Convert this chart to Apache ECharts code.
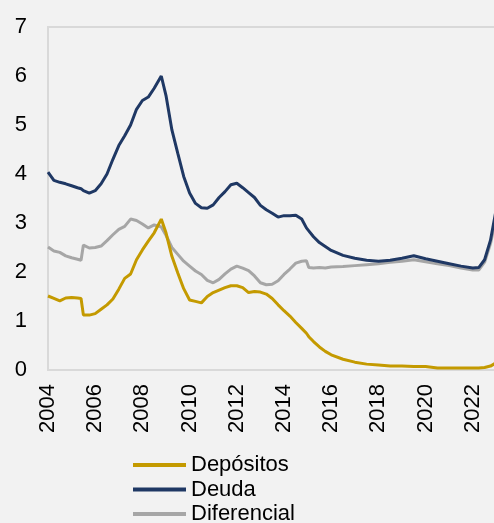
<!DOCTYPE html>
<html>
<head>
<meta charset="utf-8">
<script src="https://cdn.jsdelivr.net/npm/echarts@6/dist/echarts.min.js"></script>
<style>
    html, body { margin: 0; padding: 0; background: #f2f2f2; overflow: hidden; }
    #chart { width: 520px; height: 523px; }
</style>
</head>
<body>
<div id="chart"></div>
<script>
// años (decimales), lectura aproximada del gráfico
const anios = [
    2004.0, 2004.25, 2004.5, 2004.75, 2005.0, 2005.25, 2005.4, 2005.5, 2005.75, 2006.0,
    2006.25, 2006.5, 2006.75, 2007.0, 2007.25, 2007.5, 2007.75, 2008.0, 2008.25, 2008.5,
    2008.8, 2009.0, 2009.25, 2009.5, 2009.75, 2010.0, 2010.25, 2010.5, 2010.75, 2011.0,
    2011.25, 2011.5, 2011.75, 2012.0, 2012.25, 2012.5, 2012.75, 2013.0, 2013.25, 2013.5,
    2013.75, 2014.0, 2014.25, 2014.5, 2014.75, 2014.95, 2015.05, 2015.25, 2015.5, 2015.75,
    2016.0, 2016.5, 2017.0, 2017.5, 2018.0, 2018.5, 2019.0, 2019.5, 2020.0, 2020.5,
    2021.0, 2021.5, 2022.0, 2022.25, 2022.5, 2022.75, 2023.0
];
const depositos = [
    1.51, 1.46, 1.41, 1.47, 1.48, 1.47, 1.46, 1.12, 1.12, 1.15,
    1.24, 1.33, 1.45, 1.65, 1.87, 1.96, 2.25, 2.45, 2.63, 2.80,
    3.08, 2.80, 2.32, 1.98, 1.66, 1.43, 1.40, 1.37, 1.50, 1.58,
    1.63, 1.68, 1.72, 1.72, 1.68, 1.58, 1.60, 1.59, 1.55, 1.46,
    1.33, 1.21, 1.10, 0.97, 0.85, 0.75, 0.68, 0.58, 0.47, 0.38,
    0.31, 0.22, 0.16, 0.12, 0.10, 0.08, 0.08, 0.07, 0.07, 0.04,
    0.04, 0.04, 0.04, 0.04, 0.05, 0.08, 0.15
];
const deuda = [
    4.04, 3.87, 3.83, 3.80, 3.76, 3.72, 3.70, 3.66, 3.61, 3.66,
    3.80, 4.00, 4.30, 4.58, 4.78, 5.00, 5.32, 5.50, 5.57, 5.75,
    6.00, 5.60, 4.90, 4.42, 3.95, 3.61, 3.40, 3.31, 3.30, 3.37,
    3.52, 3.64, 3.78, 3.81, 3.72, 3.62, 3.52, 3.36, 3.27, 3.20,
    3.12, 3.15, 3.15, 3.16, 3.08, 2.90, 2.84, 2.72, 2.60, 2.52,
    2.44, 2.34, 2.28, 2.24, 2.22, 2.24, 2.28, 2.33, 2.27, 2.22,
    2.17, 2.12, 2.08, 2.09, 2.25, 2.65, 3.30
];
const diferencial = [
    2.51, 2.43, 2.40, 2.33, 2.29, 2.26, 2.24, 2.55, 2.49, 2.50,
    2.53, 2.64, 2.76, 2.87, 2.93, 3.08, 3.05, 2.98, 2.90, 2.96,
    2.92, 2.75, 2.50, 2.36, 2.22, 2.12, 2.02, 1.95, 1.83, 1.78,
    1.85, 1.96, 2.06, 2.12, 2.08, 2.03, 1.92, 1.78, 1.74, 1.75,
    1.82, 1.95, 2.06, 2.18, 2.22, 2.23, 2.09, 2.08, 2.09, 2.08,
    2.10, 2.11, 2.13, 2.15, 2.17, 2.20, 2.22, 2.25, 2.21, 2.17,
    2.13, 2.08, 2.04, 2.04, 2.20, 2.58, 3.15
];

const colores = {
    'Depósitos': '#C49A00',
    'Deuda': '#1F3864',
    'Diferencial': '#A6A6A6'
};
const fuente = 'Liberation Sans, Arial, sans-serif';

function serie(nombre, valores) {
    return {
        name: nombre,
        type: 'line',
        data: anios.map((a, i) => [a, valores[i]]),
        symbol: 'none',
        lineStyle: { width: 3, color: colores[nombre] },
        itemStyle: { color: colores[nombre] }
    };
}

const chart = echarts.init(document.getElementById('chart'));
chart.setOption({
    backgroundColor: '#f2f2f2',
    animation: false,
    grid: {
        left: 48, right: 0, top: 27, bottom: 153,
        outerBoundsMode: 'none',
        show: true, borderColor: '#d9d9d9', borderWidth: 2,
        backgroundColor: 'transparent'
    },
    legend: {
        orient: 'vertical',
        left: 133,
        top: 453,
        height: 100,
        padding: 0,
        itemWidth: 53,
        itemHeight: 4,
        itemGap: 0.5,
        icon: 'rect',
        data: ['Depósitos', 'Deuda', 'Diferencial'],
        textStyle: { fontFamily: fuente, fontSize: 22, color: '#000', lineHeight: 24 }
    },
    xAxis: {
        type: 'value',
        min: 2004,
        max: 2024,
        interval: 2,
        axisLine: { show: true, lineStyle: { color: '#d9d9d9', width: 2 } },
        axisTick: { show: false },
        splitLine: { show: false },
        axisLabel: {
            rotate: 90,
            margin: 14,
            fontFamily: fuente,
            fontSize: 22,
            color: '#000',
            formatter: v => String(v)
        }
    },
    yAxis: {
        type: 'value',
        min: 0,
        max: 7,
        interval: 1,
        axisLine: { show: true, lineStyle: { color: '#d9d9d9', width: 2 } },
        axisTick: { show: false },
        splitLine: { show: false },
        axisLabel: { margin: 21, fontFamily: fuente, fontSize: 22, color: '#000' }
    },
    series: [
        serie('Diferencial', diferencial),
        serie('Depósitos', depositos),
        serie('Deuda', deuda)
    ]
});
</script>
</body>
</html>
